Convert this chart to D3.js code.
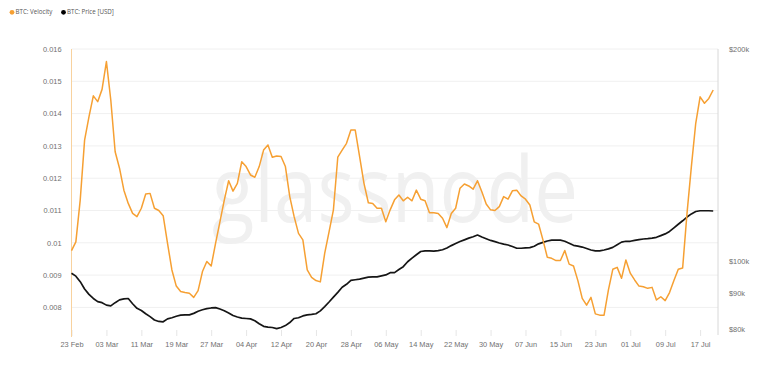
<!DOCTYPE html>
<html>
<head>
<meta charset="utf-8">
<script src="https://cdn.jsdelivr.net/npm/d3@7"></script>
<style>
  body { margin: 0; background: #fff; }
  svg { display: block; font-family: "Open Sans", sans-serif; }
  .axis text { fill: #707070; font-size: 7.4px; }
</style>
</head>
<body>
<script>
var WIDTH = 774,
    HEIGHT = 372;

// one value per day, starting 23 Feb 2025
var startDate = new Date(Date.UTC(2025, 1, 23));

var velocity = [
  0.00976, 0.01003, 0.01133, 0.01318, 0.01390, 0.01455, 0.01437, 0.01475, 0.01561, 0.01442,
  0.01282, 0.01231, 0.01163, 0.01122, 0.01091, 0.01081, 0.01107, 0.01151, 0.01153, 0.01107,
  0.01100, 0.01084, 0.00998, 0.00916, 0.00866, 0.00849, 0.00846, 0.00844, 0.00831, 0.00852,
  0.00911, 0.00942, 0.00928, 0.00998, 0.01065, 0.01132, 0.01192, 0.01160, 0.01184, 0.01251,
  0.01236, 0.01210, 0.01203, 0.01236, 0.01287, 0.01303, 0.01265, 0.01269, 0.01267, 0.01236,
  0.01143, 0.01081, 0.01029, 0.01009, 0.00916, 0.00893, 0.00883, 0.00879, 0.00967, 0.01034,
  0.01102, 0.01265, 0.01287, 0.01308, 0.01349, 0.01349, 0.01267, 0.01184, 0.01124, 0.01122,
  0.01107, 0.01107, 0.01065, 0.01102, 0.01133, 0.01148, 0.01130, 0.01141, 0.01130, 0.01163,
  0.01135, 0.01130, 0.01093, 0.01093, 0.01091, 0.01076, 0.01047, 0.01091, 0.01107, 0.01169,
  0.01182, 0.01176, 0.01166, 0.01192, 0.01158, 0.01120, 0.01102, 0.01100, 0.01112, 0.01143,
  0.01135, 0.01161, 0.01163, 0.01145, 0.01135, 0.01117, 0.01065, 0.01058, 0.01009, 0.00955,
  0.00952, 0.00945, 0.00945, 0.00976, 0.00934, 0.00928, 0.00883, 0.00828, 0.00807, 0.00831,
  0.00780, 0.00776, 0.00776, 0.00854, 0.00918, 0.00924, 0.00890, 0.00947, 0.00906, 0.00885,
  0.00866, 0.00864, 0.00859, 0.00862, 0.00823, 0.00833, 0.00821, 0.00846, 0.00883, 0.00918,
  0.00922, 0.01091, 0.01236, 0.01370, 0.01452, 0.01432, 0.01447, 0.01473
];

var price = [
  96000, 95100, 93400, 91200, 89600, 88400, 87500, 87200, 86500, 86300,
  87200, 88000, 88300, 88400, 86900, 85600, 85000, 84100, 83300, 82400,
  82000, 81900, 82700, 83000, 83400, 83700, 83800, 83800, 84200, 84800,
  85200, 85500, 85700, 85800, 85400, 84900, 84300, 83600, 83200, 82900,
  82800, 82700, 82200, 81400, 80700, 80500, 80400, 80100, 80400, 80900,
  81700, 82800, 83000, 83500, 83800, 83900, 84100, 84900, 86100, 87400,
  88800, 90200, 91700, 92600, 93800, 94000, 94200, 94500, 94800, 94900,
  94900, 95200, 95500, 96200, 96200, 97200, 98100, 99700, 100900, 102000,
  103100, 103300, 103300, 103200, 103400, 103700, 104300, 105100, 105800, 106500,
  107100, 107700, 108200, 108800, 108100, 107500, 106900, 106500, 106000, 105600,
  105300, 104800, 104200, 104200, 104300, 104400, 104900, 105700, 106200, 106700,
  107000, 107000, 107000, 106600, 105900, 105200, 104900, 104600, 104100, 103600,
  103300, 103300, 103600, 104000, 104500, 105400, 106300, 106600, 106600, 106900,
  107200, 107400, 107500, 107700, 108000, 108600, 109200, 110100, 111400, 112700,
  114000, 115400, 116600, 117500, 117800, 117800, 117800, 117700
];

var velocityTicks = [0.008, 0.009, 0.010, 0.011, 0.012, 0.013, 0.014, 0.015, 0.016];
var priceTicks = [80000, 90000, 100000, 200000];
var priceTickLabels = ["$80k", "$90k", "$100k", "$200k"];
var dateTickStep = 8; // days between x labels

var dates = velocity.map(function(d, i){ return d3.utcDay.offset(startDate, i); });
var dateTicks = d3.range(0, 145, dateTickStep).map(function(i){ return d3.utcDay.offset(startDate, i); });

// plot box (note: "top" is taken by window.top)
var plotLeft = 71.5, plotRight = 718, plotTop = 49, plotBottom = 329;

var x = d3.scaleUtc()
    .domain([startDate, new Date(startDate.getTime() + 148.1 * 864e5)])
    .range([plotLeft, plotRight]);

var yV = d3.scaleLinear()
    .domain([0.016 - (plotBottom - plotTop) / 32.3 * 0.001, 0.016])
    .range([plotBottom, plotTop]);

var yP = d3.scaleLog()
    .domain([80000, 200000])
    .range([plotBottom, plotTop]);

var svg = d3.select("body").append("svg")
    .attr("width", WIDTH)
    .attr("height", HEIGHT);

// watermark
svg.append("text")
    .attr("x", 212)
    .attr("y", 222)
    .attr("textLength", 366)
    .attr("lengthAdjust", "spacingAndGlyphs")
    .style("font-family", "'Open Sans', sans-serif")
    .style("font-size", "92px")
    .style("font-weight", 500)
    .style("fill", "#f0f0f0")
    .text("glassnode");

// horizontal grid lines
svg.append("g")
  .selectAll("line")
  .data(velocityTicks)
  .enter().append("line")
    .attr("x1", plotLeft)
    .attr("x2", plotRight)
    .attr("y1", function(d){ return yV(d); })
    .attr("y2", function(d){ return yV(d); })
    .style("stroke", "#f0f0f0")
    .style("stroke-width", 1);

// x axis
var xAxis = svg.append("g")
    .attr("class", "axis")
    .attr("transform", "translate(0," + (plotBottom + 1) + ")")
    .call(d3.axisBottom(x)
      .tickValues(dateTicks)
      .tickFormat(d3.utcFormat("%d %b"))
      .tickSize(6)
      .tickPadding(6));
xAxis.select(".domain").remove();
xAxis.selectAll(".tick line").style("stroke", "#e6e6e6");

// left axis
var yAxisL = svg.append("g")
    .attr("class", "axis")
    .attr("transform", "translate(" + plotLeft + ",0)")
    .call(d3.axisLeft(yV)
      .tickValues(velocityTicks)
      .tickFormat(function(d){ return String(+d.toFixed(3)); })
      .tickSize(0)
      .tickPadding(10));
yAxisL.select(".domain")
    .attr("d", "M0," + plotTop + "V" + (plotBottom + 8))
    .style("stroke", "#f8d29e");

// right axis
var yAxisR = svg.append("g")
    .attr("class", "axis")
    .attr("transform", "translate(" + plotRight + ",0)")
    .call(d3.axisRight(yP)
      .tickValues(priceTicks)
      .tickFormat(function(d, i){ return priceTickLabels[i]; })
      .tickSize(0)
      .tickPadding(11));
yAxisR.select(".domain")
    .attr("d", "M0," + plotTop + "V" + (plotBottom + 6))
    .style("stroke", "#d8d8d8");

// lines
var velocityLine = d3.line()
    .x(function(d, i){ return x(dates[i]); })
    .y(function(d){ return yV(d); });

var priceLine = d3.line()
    .x(function(d, i){ return x(dates[i]); })
    .y(function(d){ return yP(d); });

svg.append("path")
    .datum(price)
    .attr("d", priceLine)
    .style("fill", "none")
    .style("stroke", "#151515")
    .style("stroke-width", 1.7)
    .style("stroke-linejoin", "round");

svg.append("path")
    .datum(velocity)
    .attr("d", velocityLine)
    .style("fill", "none")
    .style("stroke", "#f6a033")
    .style("stroke-width", 1.5)
    .style("stroke-linejoin", "round");

// legend
var legend = [
  { name: "BTC: Velocity", color: "#f6a033", x: 12 },
  { name: "BTC: Price [USD]", color: "#000", x: 63.5 }
];
var lg = svg.append("g").selectAll("g")
    .data(legend)
    .enter().append("g")
    .attr("transform", function(d){ return "translate(" + d.x + ",12.3)"; });
lg.append("circle")
    .attr("r", 2.4)
    .style("fill", function(d){ return d.color; });
lg.append("text")
    .attr("x", 3.5)
    .attr("dy", "0.35em")
    .style("font-size", "6.2px")
    .style("fill", "#555")
    .text(function(d){ return d.name; });
</script>
</body>
</html>
